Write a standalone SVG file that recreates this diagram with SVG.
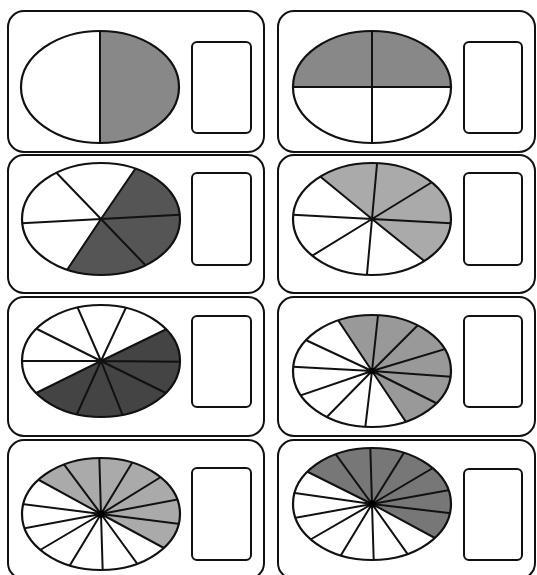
<svg xmlns="http://www.w3.org/2000/svg" width="537" height="575" viewBox="0 0 537 575">
<style>
.panel{fill:#fff;stroke:#111;stroke-width:2}
.box{fill:#fff;stroke:#111;stroke-width:2}
.el{fill:none;stroke:#111;stroke-width:2.2}
.sp{fill:none;stroke:#111;stroke-width:2}
</style>
<defs>
<clipPath id="ec"><ellipse cx="0" cy="0" rx="79" ry="56"/></clipPath>
</defs>
<rect width="537" height="575" fill="#fff"/>
<g id="card1">
<rect class="panel" x="8" y="11" width="256" height="141" rx="16"/>
<rect class="box" x="192" y="42" width="59" height="91" rx="5"/>
<g transform="translate(100,87)">
<ellipse cx="0" cy="0" rx="79" ry="56" fill="#fff"/>
<g clip-path="url(#ec)"><rect x="0" y="-60" width="90" height="120" fill="#888"/><path class="sp" d="M0 -60V60"/></g>
<ellipse class="el" cx="0" cy="0" rx="79" ry="56"/>
</g>
</g>
<g id="card2">
<rect class="panel" x="278" y="11" width="257" height="141" rx="16"/>
<rect class="box" x="464" y="42" width="58" height="91" rx="5"/>
<g transform="translate(372,87)">
<ellipse cx="0" cy="0" rx="79" ry="56" fill="#fff"/>
<g clip-path="url(#ec)"><rect x="-90" y="-60" width="180" height="60" fill="#888"/><path class="sp" d="M0 -60V60M-90 0H90"/></g>
<ellipse class="el" cx="0" cy="0" rx="79" ry="56"/>
</g>
</g>
<g id="card3">
<rect class="panel" x="8" y="155" width="256" height="138" rx="16"/>
<rect class="box" x="192" y="173" width="59" height="92" rx="5"/>
<g transform="translate(101,219)">
<ellipse cx="0" cy="0" rx="79" ry="56" fill="#fff"/>
<g clip-path="url(#ec)"><polygon points="0,0 68,-100 156,-8 86,90 -66,100" fill="#555"/>
<path class="sp" d="M0 0L-53 -55M0 0L41 -60M0 0L94 -5M0 0L52 54M0 0L-40 60M0 0L-94 5"/></g>
<ellipse class="el" cx="0" cy="0" rx="79" ry="56"/>
</g>
</g>
<g id="card4">
<rect class="panel" x="278" y="155" width="257" height="138" rx="16"/>
<rect class="box" x="464" y="173" width="58" height="92" rx="5"/>
<g transform="translate(372,219)">
<ellipse cx="0" cy="0" rx="79" ry="56" fill="#fff"/>
<g clip-path="url(#ec)"><polygon points="0,0 -102,-84 10,-110 116,-72 156,8 102,82" fill="#aaa"/>
<path class="sp" d="M0 0L-61 -50M0 0L6 -66M0 0L70 -43M0 0L94 5M0 0L61 49M0 0L-6 66M0 0L-70 43M0 0L-94 -5"/></g>
<ellipse class="el" cx="0" cy="0" rx="79" ry="56"/>
</g>
</g>
<g id="card5">
<rect class="panel" x="8" y="297" width="256" height="139" rx="16"/>
<rect class="box" x="192" y="316" width="59" height="91" rx="5"/>
<g transform="translate(101,361)">
<ellipse cx="0" cy="0" rx="79" ry="56" fill="#fff"/>
<g clip-path="url(#ec)"><polygon points="0,0 124,-60 158,2 128,64 44,108 -48,106 -128,64" fill="#444"/>
<path class="sp" d="M0 0L-28 -64M0 0L29 -62M0 0L74 -36M0 0L95 1M0 0L77 38M0 0L26 65M0 0L-29 64M0 0L-77 38M0 0L-95 0M0 0L-76 -38"/></g>
<ellipse class="el" cx="0" cy="0" rx="79" ry="56"/>
</g>
</g>
<g id="card6">
<rect class="panel" x="278" y="297" width="257" height="139" rx="16"/>
<rect class="box" x="464" y="316" width="58" height="91" rx="5"/>
<g transform="translate(372,371)">
<ellipse cx="0" cy="0" rx="79" ry="56" fill="#fff"/>
<g clip-path="url(#ec)"><polygon points="0,0 -66,-100 12,-108 86,-86 138,-42 158,12 126,64 66,100" fill="#999"/>
<path class="sp" d="M0 0L-40 -60M0 0L7 -65M0 0L52 -52M0 0L83 -25M0 0L95 7M0 0L76 38M0 0L40 60M0 0L-8 67M0 0L-53 54M0 0L-85 29M0 0L-95 -5M0 0L-77 -36"/></g>
<circle cx="0" cy="0" r="3" fill="#000"/>
<ellipse class="el" cx="0" cy="0" rx="79" ry="56"/>
</g>
</g>
<g id="card7">
<rect class="panel" x="8" y="440" width="256" height="139" rx="16"/>
<rect class="box" x="192" y="468" width="59" height="92" rx="5"/>
<g transform="translate(101,514)">
<ellipse cx="0" cy="0" rx="79" ry="56" fill="#fff"/>
<g clip-path="url(#ec)"><polygon points="0,0 -122,-66 -74,-98 -4,-112 62,-102 114,-70 148,-28 156,20 124,66" fill="#aaa"/>
<path class="sp" d="M0 0L-73 -40M0 0L-44 -59M0 0L-2 -67M0 0L37 -61M0 0L68 -42M0 0L89 -17M0 0L94 12M0 0L74 40M0 0L43 59M0 0L2 67M0 0L-37 61M0 0L-71 42M0 0L-91 17M0 0L-94 -12"/></g>
<circle cx="0" cy="0" r="3.5" fill="#000"/>
<ellipse class="el" cx="0" cy="0" rx="79" ry="56"/>
</g>
</g>
<g id="card8">
<rect class="panel" x="278" y="440" width="257" height="139" rx="16"/>
<rect class="box" x="464" y="469" width="58" height="91" rx="5"/>
<g transform="translate(372,504)">
<ellipse cx="0" cy="0" rx="79" ry="56" fill="#fff"/>
<g clip-path="url(#ec)"><polygon points="0,0 -126,-64 -72,-98 -4,-112 64,-102 118,-70 148,-26 156,18 124,66" fill="#777"/>
<path class="sp" d="M0 0L-76 -38M0 0L-43 -59M0 0L-2 -67M0 0L38 -61M0 0L71 -42M0 0L89 -16M0 0L94 11M0 0L74 40M0 0L42 59M0 0L2 66M0 0L-37 61M0 0L-71 41M0 0L-89 16M0 0L-92 -13"/></g>
<circle cx="0" cy="0" r="3.5" fill="#000"/>
<ellipse class="el" cx="0" cy="0" rx="79" ry="56"/>
</g>
</g>
</svg>
